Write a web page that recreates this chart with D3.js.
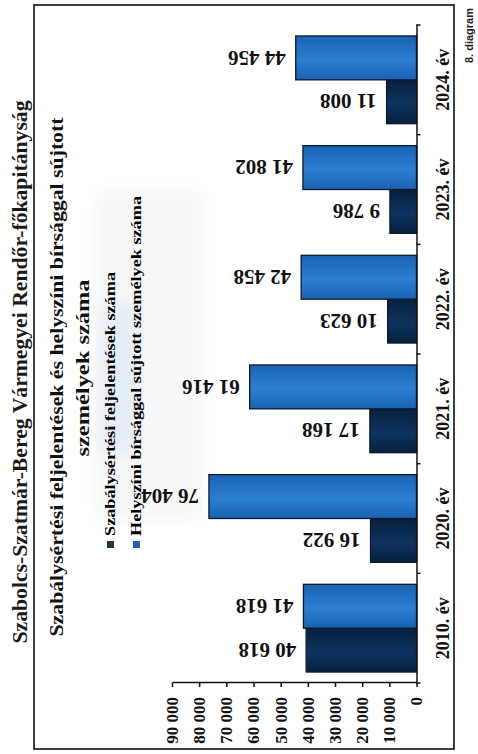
<!DOCTYPE html>
<html>
<head>
<meta charset="utf-8">
<script src="https://cdn.jsdelivr.net/npm/d3@7/dist/d3.min.js"></script>
<style>
  html, body { margin: 0; padding: 0; background: #ffffff; }
  svg { display: block; }
</style>
</head>
<body>
<div id="chart"></div>
<script>
// ---- data ----
const categories = ["2010. év", "2020. év", "2021. év", "2022. év", "2023. év", "2024. év"];
const seriesNames = ["Szabálysértési feljelentések száma", "Helyszíni bírsággal sújtott személyek száma"];
const feljelentesek = [40618, 16922, 17168, 10623, 9786, 11008];
const helyszini = [41618, 76404, 61416, 42458, 41802, 44456];
const yTickValues = [0, 10000, 20000, 30000, 40000, 50000, 60000, 70000, 80000, 90000];
const headerText = "Szabolcs-Szatmár-Bereg Vármegyei Rendőr-főkapitányság";
const titleLines = ["Szabálysértési feljelentések és helyszíni bírsággal sújtott", "személyek száma"];
const diagramLabel = "8. diagram";

// ---- setup ----
const PW = 478, PH = 754;           // page size
const W = 754, H = 478;             // unrotated chart frame
const serif = "'Liberation Serif', 'Times New Roman', serif";
const locale = d3.formatLocale({ thousands: " ", grouping: [3], decimal: ",", currency: ["", ""] });
const fmt = locale.format(",d");

const svg = d3.select("#chart").append("svg").attr("width", PW).attr("height", PH);
const defs = svg.append("defs");

function grad(id, edge, mid) {
  const g = defs.append("linearGradient").attr("id", id).attr("x1", "0").attr("x2", "1").attr("y1", "0").attr("y2", "0");
  g.append("stop").attr("offset", "0%").attr("stop-color", edge);
  g.append("stop").attr("offset", "45%").attr("stop-color", mid);
  g.append("stop").attr("offset", "100%").attr("stop-color", edge);
}
grad("gDark", "#071f3c", "#0d3461");
grad("gLight", "#1b62b2", "#2a7fd1");
defs.append("filter").attr("id", "blur").append("feGaussianBlur").attr("stdDeviation", 8);

const g = svg.append("g").attr("transform", `translate(0,${PH}) rotate(-90)`);

// faint photo-like background
g.append("rect").attr("x", 234).attr("y", 95).attr("width", 330).attr("height", 110)
  .attr("fill", "#eceef0").attr("opacity", 0.45).attr("filter", "url(#blur)");
g.append("rect").attr("x", 300).attr("y", 100).attr("width", 150).attr("height", 40)
  .attr("fill", "#d5e4f2").attr("opacity", 0.5).attr("filter", "url(#blur)");

// border
g.append("rect").attr("x", 5).attr("y", 34).attr("width", 744).attr("height", 420)
  .attr("fill", "none").attr("stroke", "#111").attr("stroke-width", 1.6);

// header (outside frame)
g.append("text").attr("x", 382).attr("y", 27).attr("text-anchor", "middle")
  .attr("font-family", serif).attr("font-weight", "bold").attr("font-size", 20)
  .attr("textLength", 543).attr("lengthAdjust", "spacingAndGlyphs")
  .attr("fill", "#1a1a1a").text(headerText);

// diagram number
g.append("text").attr("x", 691).attr("y", 473)
  .attr("font-family", "'Liberation Sans', Arial, sans-serif").attr("font-weight", "bold").attr("font-size", 11)
  .attr("fill", "#222").text(diagramLabel);

// title
g.append("text").attr("x", 377).attr("y", 63).attr("text-anchor", "middle")
  .attr("font-family", serif).attr("font-weight", "bold").attr("font-size", 18)
  .attr("textLength", 519).attr("lengthAdjust", "spacingAndGlyphs")
  .attr("fill", "#111").text(titleLines[0]);
g.append("text").attr("x", 386).attr("y", 89).attr("text-anchor", "middle")
  .attr("font-family", serif).attr("font-weight", "bold").attr("font-size", 18)
  .attr("textLength", 177).attr("lengthAdjust", "spacingAndGlyphs")
  .attr("fill", "#111").text(titleLines[1]);

// scales
const x0 = d3.scaleBand().domain(categories).range([71, 729]).paddingInner(0.2).paddingOuter(0.1);
const x1 = d3.scaleBand().domain([0, 1]).range([0, x0.bandwidth()]);
const y = d3.scaleLinear().domain([0, 90000]).range([416.5, 172]);

const rows = categories.map((c, i) => ({ cat: c, vals: [feljelentesek[i], helyszini[i]] }));
const fills = ["url(#gDark)", "url(#gLight)"];
const legendColors = ["#22324a", "#1f62b4"];

// bars
const grp = g.append("g").selectAll("g").data(rows).join("g")
  .attr("transform", d => `translate(${x0(d.cat)},0)`);
grp.selectAll("rect").data(d => d.vals.map((v, k) => ({ v, k }))).join("rect")
  .attr("x", d => x1(d.k)).attr("width", x1.bandwidth())
  .attr("y", d => y(d.v)).attr("height", d => y(0) - y(d.v))
  .attr("fill", d => fills[d.k]).attr("stroke", "#0a1a30").attr("stroke-width", 1.3);

// data labels (rotated)
grp.selectAll("text").data(d => d.vals.map((v, k) => ({ v, k }))).join("text")
  .attr("transform", d => `translate(${x1(d.k) + x1.bandwidth() / 2},${y(d.v) - 10}) rotate(-90)`)
  .attr("dy", "0.35em")
  .attr("font-family", serif).attr("font-weight", "bold").attr("font-size", 21)
  .attr("fill", "#111").text(d => fmt(d.v));

// y axis
const yAxis = g.append("g").attr("transform", "translate(71,0)")
  .call(d3.axisLeft(y).tickValues(yTickValues).tickFormat(fmt).tickSize(4).tickSizeOuter(0).tickPadding(10));
yAxis.selectAll("path, line").attr("stroke", "#111").attr("stroke-width", 1.5);
yAxis.selectAll("text").attr("font-family", serif).attr("font-weight", "bold").attr("font-size", 17).attr("fill", "#111");

// x axis
const xAxis = g.append("g").attr("transform", `translate(0,${y(0)})`)
  .call(d3.axisBottom(x0).tickSize(0).tickSizeOuter(0).tickPadding(20));
xAxis.select("path").attr("stroke", "#111").attr("stroke-width", 1.5);
xAxis.selectAll("text").attr("font-family", serif).attr("font-weight", "bold").attr("font-size", 18)
  .attr("fill", "#111").attr("dy", "0.71em");
const step = x0.step();
const bounds = categories.map(c => x0(c) - x0.paddingOuter() * step).concat([x0(categories[categories.length - 1]) + x0.bandwidth() + x0.paddingOuter() * step]);
xAxis.selectAll("line.bound").data(bounds).join("line").attr("class", "bound")
  .attr("x1", d => d).attr("x2", d => d).attr("y1", 0).attr("y2", 4)
  .attr("stroke", "#111").attr("stroke-width", 1.5);

// legend
const leg = g.append("g");
seriesNames.forEach((name, k) => {
  const vy = [114, 140][k];
  leg.append("rect").attr("x", 206).attr("y", vy - 7).attr("width", 7).attr("height", 7).attr("fill", legendColors[k]);
  leg.append("text").attr("x", 218).attr("y", vy + 1)
    .attr("font-family", serif).attr("font-weight", "bold").attr("font-size", 14.5)
    .attr("textLength", [264, 340][k]).attr("lengthAdjust", "spacingAndGlyphs")
    .attr("fill", "#000").text(name);
});
</script>
</body>
</html>
